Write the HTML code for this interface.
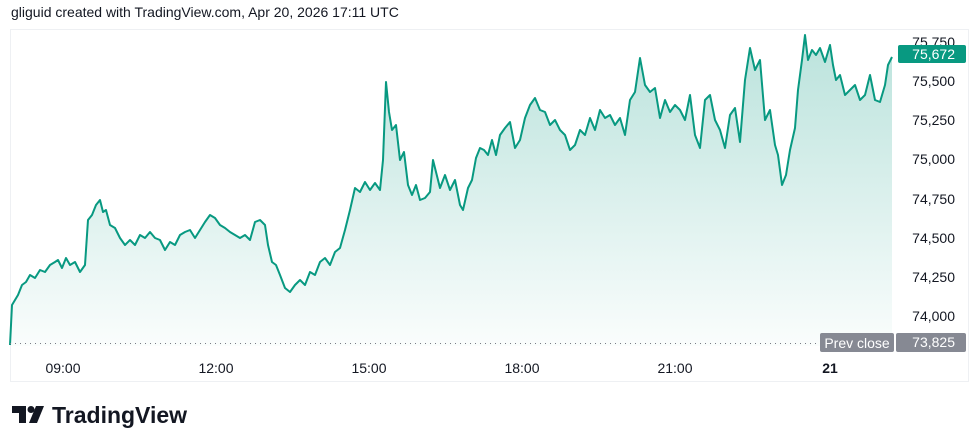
<!DOCTYPE html>
<html><head><meta charset="utf-8"><style>
body{margin:0;background:#fff;width:980px;height:448px;overflow:hidden;font-family:"Liberation Sans",sans-serif;}
</style></head><body>
<svg width="980" height="448" xmlns="http://www.w3.org/2000/svg" style="position:absolute;left:0;top:0">
<defs><linearGradient id="g" x1="0" y1="0" x2="0" y2="1"><stop offset="0" stop-color="#089981" stop-opacity="0.28"/><stop offset="1" stop-color="#089981" stop-opacity="0.02"/></linearGradient></defs>
<text x="11" y="17" font-size="14" fill="#131722">gliguid created with TradingView.com, Apr 20, 2026 17:11 UTC</text>
<rect x="10.5" y="29.5" width="958" height="352" fill="none" stroke="#eef0f3"/>
<polygon fill="url(#g)" points="10,345 12,305 15,300 18,295 22,285 26,282 30,275 35,278 40,270 45,272 50,265 55,262 58,260 62,268 66,258 70,265 75,262 80,272 85,265 88,220 92,215 96,205 100,200 103,212 106,210 110,225 115,228 120,238 125,245 130,240 135,245 140,235 145,238 150,232 155,238 160,240 165,250 170,242 175,245 180,235 185,232 190,230 195,238 200,230 205,222 210,215 215,218 220,225 225,228 230,232 235,235 240,238 245,235 250,240 255,222 260,220 265,225 268,245 272,262 276,265 280,275 285,288 290,292 295,285 300,280 305,285 310,272 315,275 320,262 325,258 330,265 335,252 340,248 345,230 350,210 355,188 360,192 365,182 370,190 375,183 380,190 383,160 386,82 389,112 392,130 396,125 400,160 404,152 408,185 412,195 416,185 420,200 425,198 430,192 433,160 436,172 440,188 445,175 450,190 455,180 460,205 463,210 468,188 472,180 476,158 480,148 484,150 488,155 492,140 496,155 500,135 505,128 510,122 515,148 520,140 525,118 530,105 535,98 540,110 545,112 550,125 555,120 560,130 565,135 570,150 575,145 580,130 585,135 590,118 595,130 600,110 605,118 610,115 615,125 620,118 625,135 630,100 635,92 640,58 645,85 650,92 655,88 660,118 665,100 670,112 675,105 680,110 685,120 690,95 695,135 700,148 705,100 710,95 715,120 720,130 725,148 730,115 735,108 740,142 745,80 750,48 755,70 760,60 765,120 770,110 775,145 778,155 782,185 786,175 790,150 795,128 798,90 802,60 805,35 808,60 812,50 816,55 820,48 825,62 830,45 833,65 836,80 840,75 845,95 850,90 855,85 860,100 865,95 870,75 875,100 880,102 885,85 888,65 892,57 892,346 10,346"/>
<polyline fill="none" stroke="#089981" stroke-width="2" stroke-linejoin="round" points="10,345 12,305 15,300 18,295 22,285 26,282 30,275 35,278 40,270 45,272 50,265 55,262 58,260 62,268 66,258 70,265 75,262 80,272 85,265 88,220 92,215 96,205 100,200 103,212 106,210 110,225 115,228 120,238 125,245 130,240 135,245 140,235 145,238 150,232 155,238 160,240 165,250 170,242 175,245 180,235 185,232 190,230 195,238 200,230 205,222 210,215 215,218 220,225 225,228 230,232 235,235 240,238 245,235 250,240 255,222 260,220 265,225 268,245 272,262 276,265 280,275 285,288 290,292 295,285 300,280 305,285 310,272 315,275 320,262 325,258 330,265 335,252 340,248 345,230 350,210 355,188 360,192 365,182 370,190 375,183 380,190 383,160 386,82 389,112 392,130 396,125 400,160 404,152 408,185 412,195 416,185 420,200 425,198 430,192 433,160 436,172 440,188 445,175 450,190 455,180 460,205 463,210 468,188 472,180 476,158 480,148 484,150 488,155 492,140 496,155 500,135 505,128 510,122 515,148 520,140 525,118 530,105 535,98 540,110 545,112 550,125 555,120 560,130 565,135 570,150 575,145 580,130 585,135 590,118 595,130 600,110 605,118 610,115 615,125 620,118 625,135 630,100 635,92 640,58 645,85 650,92 655,88 660,118 665,100 670,112 675,105 680,110 685,120 690,95 695,135 700,148 705,100 710,95 715,120 720,130 725,148 730,115 735,108 740,142 745,80 750,48 755,70 760,60 765,120 770,110 775,145 778,155 782,185 786,175 790,150 795,128 798,90 802,60 805,35 808,60 812,50 816,55 820,48 825,62 830,45 833,65 836,80 840,75 845,95 850,90 855,85 860,100 865,95 870,75 875,100 880,102 885,85 888,65 892,57"/>
<line x1="10" y1="343.5" x2="820" y2="343.5" stroke="#787b86" stroke-width="1" stroke-dasharray="1,4"/>
<g font-size="14" fill="#131722" text-anchor="end">
<text x="955" y="47">75,750</text><text x="955" y="86">75,500</text><text x="955" y="125">75,250</text><text x="955" y="164">75,000</text><text x="955" y="204">74,750</text><text x="955" y="243">74,500</text><text x="955" y="282">74,250</text><text x="955" y="321">74,000</text>
</g>
<rect x="898" y="45" width="68" height="18" rx="2" fill="#089981"/>
<text x="955" y="59" font-size="14" fill="#fff" text-anchor="end">75,672</text>
<rect x="820" y="333" width="74" height="19" rx="2" fill="#868993"/>
<text x="857" y="348" font-size="14" fill="#fff" text-anchor="middle">Prev close</text>
<rect x="896" y="333" width="70" height="19" rx="2" fill="#868993"/>
<text x="955" y="347" font-size="14" fill="#fff" text-anchor="end">73,825</text>
<g font-size="14" fill="#131722" text-anchor="middle">
<text x="63" y="373">09:00</text><text x="216" y="373">12:00</text><text x="369" y="373">15:00</text><text x="522" y="373">18:00</text><text x="675" y="373">21:00</text><text x="830" y="373" font-weight="bold">21</text>
</g>
<g fill="#131722">
<path d="M12 406h14v17h-7v-10h-7z"/>
<circle cx="31" cy="409.5" r="3.5"/>
<path d="M36 406h8l-7 17h-8z"/>
</g>
<text x="52" y="423" font-size="23" font-weight="bold" fill="#131722">TradingView</text>
</svg>
</body></html>
